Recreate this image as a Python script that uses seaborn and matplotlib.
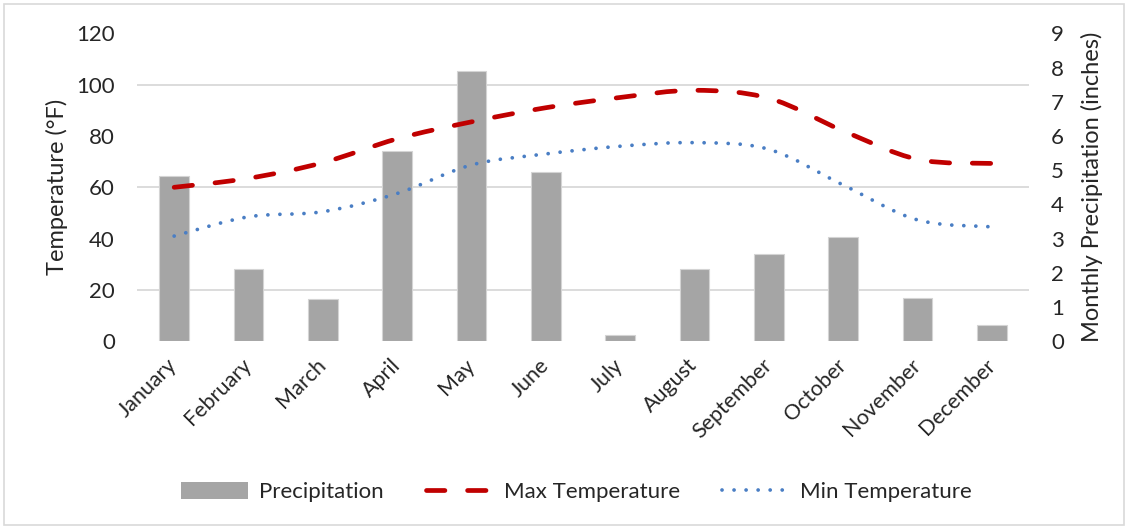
import numpy as np
import pandas as pd
import seaborn as sns
import matplotlib
matplotlib.use("Agg")
import matplotlib.pyplot as plt
from matplotlib.path import Path
from matplotlib.patches import PathPatch, Patch, Rectangle
from matplotlib.lines import Line2D

months = ["January", "February", "March", "April", "May", "June", "July",
          "August", "September", "October", "November", "December"]
precip = [4.83, 2.10, 1.25, 5.56, 7.90, 4.95, 0.18, 2.10, 2.54, 3.06, 1.27, 0.48]
max_temp = [60.0, 63.5, 69.6, 78.9, 85.5, 91.0, 95.0, 97.8, 94.7, 82.0, 70.9, 69.3]
min_temp = [41.0, 48.5, 50.5, 57.6, 68.7, 73.0, 76.0, 77.4, 74.8, 60.9, 47.3, 44.6]
temp_ticks = [0, 20, 40, 60, 80, 100, 120]
precip_ticks = [0, 1, 2, 3, 4, 5, 6, 7, 8, 9]

sns.set_theme(style="white")
plt.rcParams["font.family"] = ["Lato", "DejaVu Sans"]
FS = 16
FS_LAB = 17
FS_X = 15.5

fig = plt.figure(figsize=(11.28, 5.29), dpi=100)
fig.patches.append(Rectangle((4 / 1128, 4 / 529), 1120 / 1128, 521 / 529,
                             transform=fig.transFigure, fill=False,
                             edgecolor="#D9D9D9", lw=1.2))

ax = fig.add_axes([137 / 1128, (529 - 341.3) / 529, 892 / 1128, 308 / 529])
df = pd.DataFrame({"Month": months, "Precipitation": precip})
sns.barplot(data=df, x="Month", y="Precipitation", color="#A5A5A5", saturation=1,
            width=0.4, edgecolor="#D4D4D4", linewidth=0.8, ax=ax, zorder=2)
ax.set_xlim(-0.5, 11.5)
ax.set_ylim(0, 9)

ax2 = ax.twinx()

ax.yaxis.tick_right()
ax.yaxis.set_label_position("right")
ax.set_yticks(precip_ticks)
ax.set_yticklabels([str(t) for t in precip_ticks], fontsize=FS)
# gridlines matching the temperature (left) ticks
ax.set_yticks([t * 9 / 120 for t in temp_ticks], minor=True)
ax.set_yticklabels([], minor=True)
ax.set_axisbelow(True)
ax.yaxis.grid(True, which="minor", color="#D9D9D9", lw=1.3)
ax.yaxis.grid(False, which="major")
ax.xaxis.grid(False)
ax.tick_params(which="both", length=0)
ax.tick_params(axis="y", pad=16)
ax.tick_params(axis="x", pad=15)
ax.set_xlabel("")
ax.set_ylabel("Monthly Precipitation (inches)", fontsize=FS_LAB, labelpad=12)
for lab in ax.get_xticklabels():
    lab.set_rotation(45)
    lab.set_ha("right")
    lab.set_va("center")
    lab.set_rotation_mode("anchor")
    lab.set_fontsize(FS_X)
for s in ax.spines.values():
    s.set_visible(False)

ax2.yaxis.tick_left()
ax2.yaxis.set_label_position("left")
ax2.set_ylim(0, 120)
ax2.set_yticks(temp_ticks)
ax2.set_yticklabels([str(t) for t in temp_ticks], fontsize=FS)
ax2.tick_params(which="both", length=0, pad=16)
ax2.set_ylabel("Temperature (°F)", fontsize=FS_LAB, labelpad=6)
ax2.grid(False)
for s in ax2.spines.values():
    s.set_visible(False)


def smooth_path(xs, ys):
    pts = np.column_stack([xs, ys]).astype(float)
    n = len(pts)
    verts = [pts[0]]
    codes = [Path.MOVETO]
    for i in range(n - 1):
        p0 = pts[i - 1] if i > 0 else pts[i]
        p1 = pts[i]
        p2 = pts[i + 1]
        p3 = pts[i + 2] if i + 2 < n else pts[i + 1]
        c1 = p1 + (p2 - p0) / 6.0
        c2 = p2 - (p3 - p1) / 6.0
        verts += [c1, c2, p2]
        codes += [Path.CURVE4] * 3
    return Path(verts, codes)


x = np.arange(len(months))
LW_MAX = 3.4
LW_MIN = 2.7
dash_max = (0, (3.9, 4.8))
dot_min = (0, (0.01, 3.2))

ax2.add_patch(PathPatch(smooth_path(x, max_temp), fill=False, edgecolor="#C00000",
                        lw=LW_MAX, linestyle=dash_max, capstyle="round",
                        transform=ax2.transData, zorder=3))
ax2.add_patch(PathPatch(smooth_path(x, min_temp), fill=False, edgecolor="#4A7EC4",
                        lw=LW_MIN, linestyle=dot_min, capstyle="round",
                        transform=ax2.transData, zorder=3))

handles = [
    Patch(facecolor="#A5A5A5", edgecolor="none", label="Precipitation"),
    Line2D([], [], color="#C00000", lw=LW_MAX, linestyle=dash_max,
           dash_capstyle="round", label="Max Temperature"),
    Line2D([], [], color="#4A7EC4", lw=LW_MIN, linestyle=dot_min,
           dash_capstyle="round", label="Min Temperature"),
]
fig.legend(handles=handles, loc="center", bbox_to_anchor=(0.511, 0.07), ncol=3,
           frameon=False, fontsize=FS, handlelength=3.0, handleheight=0.8,
           columnspacing=1.9, handletextpad=0.5)

fig.savefig("out.png", dpi=100)
